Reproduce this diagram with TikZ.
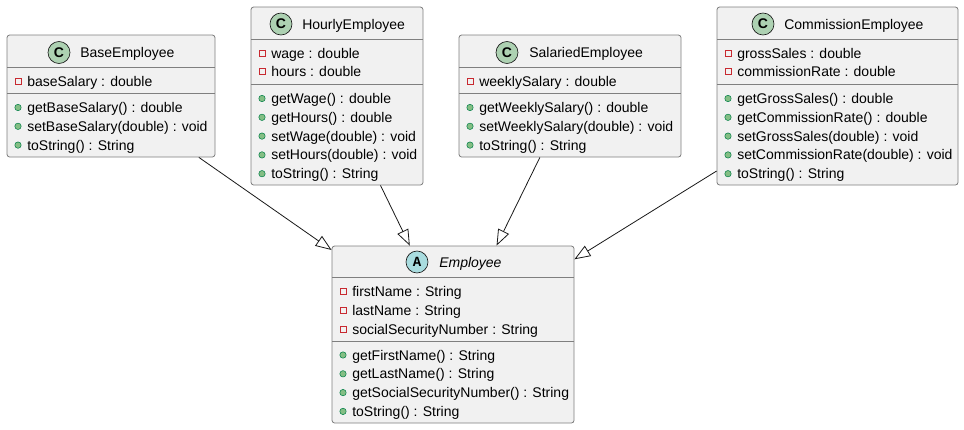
\documentclass[tikz,border=0pt]{standalone}
\usepackage{fontspec}
\setmainfont{Liberation Sans}
\newfontfamily\iconmono{Liberation Mono}
\usetikzlibrary{arrows.meta}
\definecolor{boxfill}{HTML}{F1F1F1}
\definecolor{boxline}{HTML}{7F7F7F}
\definecolor{linedark}{HTML}{181818}
\definecolor{classgreen}{HTML}{ADD1B2}
\definecolor{abstractblue}{HTML}{A9DCDF}
\definecolor{privred}{HTML}{C82930}
\definecolor{pubfill}{HTML}{84BE84}
\definecolor{publine}{HTML}{038048}

\begin{document}
\begin{tikzpicture}[x=0.75pt,y=-0.75pt,
  classbox/.style={draw=boxline,fill=boxfill,line width=0.6pt,rounded corners=2pt,inner sep=0pt},
  sepline/.style={draw=boxline,line width=0.6pt},
  icon/.style={circle,draw=linedark,line width=0.5pt,minimum size=16.5pt,inner sep=0pt,font=\fontsize{10.5}{10.5}\selectfont\bfseries},
  title/.style={anchor=base west,inner sep=0pt,font=\fontsize{10.5}{12}\selectfont},
  member/.style={anchor=base west,inner sep=0pt,font=\fontsize{10.5}{12}\selectfont},
  priv/.style={rectangle,draw=privred,line width=0.6pt,minimum size=4.5pt,inner sep=0pt},
  pub/.style={circle,draw=publine,fill=pubfill,line width=0.4pt,minimum size=4.8pt,inner sep=0pt},
  extends/.style={draw=linedark,line width=0.6pt,-{Triangle[open,length=12pt,width=9pt]}}]
  \useasboundingbox (0,0) rectangle (964,429);

  % BaseEmployee
  \node[classbox,minimum width=156pt,minimum height=91.5pt] (base) at (111,96) {};
  \draw[sepline] (7,67.5) -- (215,67.5);
  \draw[sepline] (7,93.5) -- (215,93.5);
  \node[icon,fill=classgreen] (baseC) at (59,52.5) {C};
  \node[title] (baseT) at (80,57.5) {BaseEmployee};
  \foreach \t [count=\i,evaluate=\i as \y using 81+(\i-1)*18.8] in {baseSalary : double}{
    \node[priv] (baseFm\i) at (18,\y) {};
    \node[member] (baseF\i) at (27,\y+5) {\t};
  }
  \foreach \t [count=\i,evaluate=\i as \y using 107.5+(\i-1)*18.8] in {getBaseSalary() : double,setBaseSalary(double) : void,toString() : String}{
    \node[pub] (baseMm\i) at (18,\y) {};
    \node[member] (baseM\i) at (27,\y+5) {\t};
  }

  % HourlyEmployee
  \node[classbox,minimum width=129pt,minimum height=133.5pt] (hourly) at (337,96) {};
  \draw[sepline] (251,39.5) -- (423,39.5);
  \draw[sepline] (251,84.5) -- (423,84.5);
  \node[icon,fill=classgreen] (hourlyC) at (281,24) {C};
  \node[title] (hourlyT) at (302,29) {HourlyEmployee};
  \foreach \t [count=\i,evaluate=\i as \y using 53+(\i-1)*18.8] in {wage : double,hours : double}{
    \node[priv] (hourlyFm\i) at (262,\y) {};
    \node[member] (hourlyF\i) at (271,\y+5) {\t};
  }
  \foreach \t [count=\i,evaluate=\i as \y using 98.5+(\i-1)*18.8] in {getWage() : double,getHours() : double,setWage(double) : void,setHours(double) : void,toString() : String}{
    \node[pub] (hourlyMm\i) at (262,\y) {};
    \node[member] (hourlyM\i) at (271,\y+5) {\t};
  }

  % SalariedEmployee
  \node[classbox,minimum width=166.5pt,minimum height=91.5pt] (salaried) at (570,96) {};
  \draw[sepline] (459,67.5) -- (681,67.5);
  \draw[sepline] (459,93.5) -- (681,93.5);
  \node[icon,fill=classgreen] (salariedC) at (507,52.5) {C};
  \node[title] (salariedT) at (529,57.5) {SalariedEmployee};
  \foreach \t [count=\i,evaluate=\i as \y using 81+(\i-1)*18.8] in {weeklySalary : double}{
    \node[priv] (salariedFm\i) at (470,\y) {};
    \node[member] (salariedF\i) at (479,\y+5) {\t};
  }
  \foreach \t [count=\i,evaluate=\i as \y using 107.5+(\i-1)*18.8] in {getWeeklySalary() : double,setWeeklySalary(double) : void,toString() : String}{
    \node[pub] (salariedMm\i) at (470,\y) {};
    \node[member] (salariedM\i) at (479,\y+5) {\t};
  }

  % CommissionEmployee
  \node[classbox,minimum width=180.75pt,minimum height=133.5pt] (commission) at (837.5,96) {};
  \draw[sepline] (717,39.5) -- (958,39.5);
  \draw[sepline] (717,84.5) -- (958,84.5);
  \node[icon,fill=classgreen] (commissionC) at (763,24) {C};
  \node[title] (commissionT) at (784,29) {CommissionEmployee};
  \foreach \t [count=\i,evaluate=\i as \y using 53+(\i-1)*18.8] in {grossSales : double,commissionRate : double}{
    \node[priv] (commissionFm\i) at (728,\y) {};
    \node[member] (commissionF\i) at (737,\y+5) {\t};
  }
  \foreach \t [count=\i,evaluate=\i as \y using 98.5+(\i-1)*18.8] in {getGrossSales() : double,getCommissionRate() : double,setGrossSales(double) : void,setCommissionRate(double) : void,toString() : String}{
    \node[pub] (commissionMm\i) at (728,\y) {};
    \node[member] (commissionM\i) at (737,\y+5) {\t};
  }

  % Employee (abstract)
  \node[classbox,minimum width=181.5pt,minimum height=132.75pt] (employee) at (453,334.5) {};
  \draw[sepline] (332,277.5) -- (574,277.5);
  \draw[sepline] (332,341) -- (574,341);
  \node[icon,fill=abstractblue,font=\fontsize{10.5}{10.5}\selectfont\iconmono\bfseries] (employeeA) at (417,262) {A};
  \node[title,font=\fontsize{10.5}{12}\selectfont\itshape] (employeeT) at (439,267) {Employee};
  \foreach \t [count=\i,evaluate=\i as \y using 291.5+(\i-1)*18.8] in {firstName : String,lastName : String,socialSecurityNumber : String}{
    \node[priv] (employeeFm\i) at (343,\y) {};
    \node[member] (employeeF\i) at (352,\y+5) {\t};
  }
  \foreach \t [count=\i,evaluate=\i as \y using 355+(\i-1)*18.8] in {getFirstName() : String,getLastName() : String,getSocialSecurityNumber() : String,toString() : String}{
    \node[pub] (employeeMm\i) at (343,\y) {};
    \node[member] (employeeM\i) at (352,\y+5) {\t};
  }

  % generalisation arrows
  \draw[extends] (base) -- (employee);
  \draw[extends] (hourly) -- (employee);
  \draw[extends] (salaried) -- (employee);
  \draw[extends] (commission) -- (employee);
\end{tikzpicture}
\end{document}
